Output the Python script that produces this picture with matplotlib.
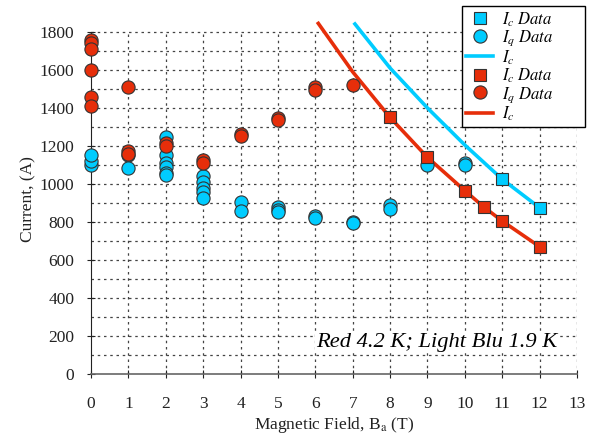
import matplotlib
matplotlib.use("Agg")
import matplotlib.pyplot as plt
from matplotlib.lines import Line2D

plt.rcParams["font.family"] = ["Liberation Serif", "DejaVu Serif"]
plt.rcParams["mathtext.fontset"] = "stix"

CYAN = "#00CCFF"
RED = "#E62E0A"
EDGE = "#333333"

# 1.9 K quench data (Iq)
iq19_x = [0, 0, 0, 1, 1, 2, 2, 2, 2, 2, 2, 3, 3, 3, 3, 3, 4, 4, 5, 5, 5, 6, 6, 7, 7, 8, 8, 9, 10, 10]
iq19_y = [1100, 1120, 1150, 1150, 1085, 1245, 1150, 1110, 1090, 1060, 1045,
          1040, 1010, 980, 960, 925, 905, 860, 880, 865, 855, 830, 820, 800, 795,
          890, 870, 1100, 1112, 1100]
# 1.9 K critical current data (Ic)
ic19_x = [11, 12]
ic19_y = [1025, 875]
# 1.9 K Ic curve
ic19_line_x = [7.06, 8, 9, 10, 11, 12]
ic19_line_y = [1842, 1610, 1400, 1205, 1025, 875]

# 4.2 K quench data (Iq)
iq42_x = [0, 0, 0, 0, 0, 0, 1, 1, 1, 2, 2, 3, 3, 4, 4, 5, 5, 6, 6, 7]
iq42_y = [1760, 1740, 1710, 1600, 1460, 1410, 1510, 1172, 1160, 1215, 1200,
          1125, 1110, 1265, 1255, 1345, 1335, 1510, 1495, 1520]
# 4.2 K critical current data (Ic)
ic42_x = [8, 9, 10, 10.5, 11, 12]
ic42_y = [1350, 1140, 965, 880, 805, 670]
# 4.2 K Ic curve
ic42_line_x = [6.08, 7, 8, 9, 10, 10.5, 11, 12]
ic42_line_y = [1845, 1590, 1350, 1140, 965, 880, 805, 670]

fig = plt.figure(figsize=(5.93, 4.36), dpi=100)
ax = fig.add_axes([0.1535, 0.1422, 0.8195, 0.8041])

# grid (only up to 1800)
for xv in range(1, 14):
    ax.plot([xv, xv], [0, 1800], ls=(0, (2, 3)), color="#444444", lw=0.9, zorder=1)
for yv in range(100, 1801, 100):
    ax.plot([0, 13], [yv, yv], ls=(0, (2, 3)), color="#444444", lw=0.9, zorder=1)

ax.plot(ic19_line_x, ic19_line_y, color=CYAN, lw=2.6, zorder=2, clip_on=False)
ax.plot(ic42_line_x, ic42_line_y, color=RED, lw=2.6, zorder=2, clip_on=False)

ms_c = 9.5
ms_s = 9
ax.plot(iq19_x, iq19_y, "o", ms=ms_c, mfc=CYAN, mec=EDGE, mew=0.8, zorder=3, clip_on=False)
ax.plot(iq42_x, iq42_y, "o", ms=ms_c, mfc=RED, mec=EDGE, mew=0.8, zorder=3, clip_on=False)
ax.plot(ic19_x, ic19_y, "s", ms=ms_s, mfc=CYAN, mec=EDGE, mew=0.8, zorder=4, clip_on=False)
ax.plot(ic42_x, ic42_y, "s", ms=ms_s, mfc=RED, mec=EDGE, mew=0.8, zorder=4, clip_on=False)

ax.set_xlim(0, 13)
ax.set_ylim(0, 1845)
ax.set_xticks(range(0, 14))
ax.set_yticks(range(0, 1801, 200))
for s in ["top", "right"]:
    ax.spines[s].set_visible(False)
ax.spines["left"].set_bounds(0, 1800)
ax.spines["left"].set_color("#222222")
ax.spines["bottom"].set_color("#666666")
ax.spines["bottom"].set_linewidth(1.2)
ax.tick_params(direction="inout", length=6, width=0.8, labelsize=12.5, colors="#222222")
ax.tick_params(axis="x", pad=13)
ax.tick_params(axis="y", pad=9)

ax.set_xlabel(r"Magnetic Field, B$_\mathrm{a}$ (T)", fontsize=12.5, color="#222222", labelpad=2)
ax.set_ylabel("Current, (A)", fontsize=12.5, color="#222222", labelpad=2)

ax.text(9.25, 168, "Red 4.2 K; Light Blu 1.9 K", style="italic", fontsize=16.2,
        ha="center", va="center", zorder=5,
        bbox=dict(facecolor="white", edgecolor="none", pad=1))

handles = [
    Line2D([], [], ls="none", marker="s", ms=ms_s, mfc=CYAN, mec=EDGE, mew=0.8),
    Line2D([], [], ls="none", marker="o", ms=ms_c, mfc=CYAN, mec=EDGE, mew=0.8),
    Line2D([], [], color=CYAN, lw=2.6),
    Line2D([], [], ls="none", marker="s", ms=ms_s, mfc=RED, mec=EDGE, mew=0.8),
    Line2D([], [], ls="none", marker="o", ms=ms_c, mfc=RED, mec=EDGE, mew=0.8),
    Line2D([], [], color=RED, lw=2.6),
]
labels = [r"$I_c\ Data$", r"$I_q\ Data$", r"$I_c$",
          r"$I_c\ Data$", r"$I_q\ Data$", r"$I_c$"]
leg = fig.legend(handles, labels, loc="upper left",
                 bbox_to_anchor=(462 / 593, 0, 123 / 593, 1 - 6 / 436), mode="expand",
                 borderaxespad=0, fontsize=12, frameon=True, fancybox=False, framealpha=1,
                 edgecolor="black", handlelength=1.6, handletextpad=0.55,
                 labelspacing=0.0, borderpad=0.25)
leg.get_frame().set_linewidth(1.0)

fig.savefig("out.png", dpi=100)
